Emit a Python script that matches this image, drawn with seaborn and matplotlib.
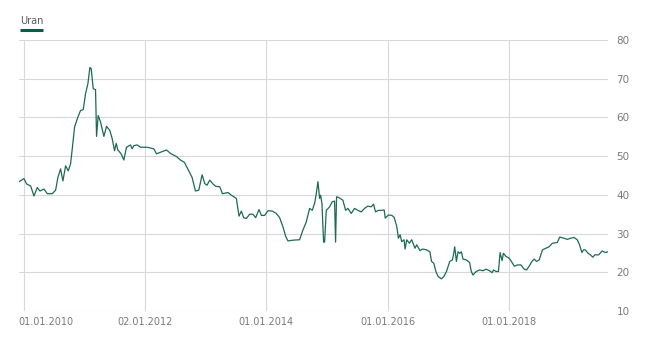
import matplotlib
matplotlib.use("Agg")
import matplotlib.pyplot as plt
from matplotlib.lines import Line2D
from matplotlib.transforms import ScaledTranslation
import seaborn as sns
import pandas as pd

# Time as decimal year, price in USD/lb
years = [
    2009.918, 2010.000, 2010.044, 2010.110, 2010.165, 2010.220, 2010.264, 2010.330, 2010.385, 2010.467,
    2010.522, 2010.560, 2010.604, 2010.643, 2010.687, 2010.731, 2010.769, 2010.797, 2010.835, 2010.890,
    2010.934, 2010.978, 2011.016, 2011.055, 2011.088, 2011.110, 2011.143, 2011.181, 2011.198, 2011.225,
    2011.264, 2011.319, 2011.363, 2011.418, 2011.456, 2011.495, 2011.522, 2011.549, 2011.604, 2011.648,
    2011.692, 2011.758, 2011.786, 2011.813, 2011.868, 2011.923, 2012.033, 2012.143, 2012.187, 2012.253,
    2012.352, 2012.418, 2012.516, 2012.582, 2012.648, 2012.720, 2012.775, 2012.830, 2012.885, 2012.940,
    2012.984, 2013.022, 2013.066, 2013.121, 2013.165, 2013.231, 2013.275, 2013.368, 2013.423, 2013.505,
    2013.549, 2013.588, 2013.626, 2013.670, 2013.725, 2013.780, 2013.824, 2013.879, 2013.918, 2013.973,
    2014.027, 2014.099, 2014.165, 2014.220, 2014.275, 2014.319, 2014.357, 2014.440, 2014.549, 2014.604,
    2014.659, 2014.714, 2014.758, 2014.797, 2014.824, 2014.852, 2014.879, 2014.896, 2014.918, 2014.945,
    2014.962, 2014.989, 2015.044, 2015.088, 2015.126, 2015.143, 2015.159, 2015.209, 2015.264, 2015.308,
    2015.346, 2015.401, 2015.456, 2015.511, 2015.566, 2015.621, 2015.676, 2015.731, 2015.769, 2015.802,
    2015.852, 2015.896, 2015.945, 2015.962, 2016.016, 2016.071, 2016.109, 2016.153, 2016.180, 2016.208,
    2016.235, 2016.273, 2016.290, 2016.317, 2016.361, 2016.399, 2016.426, 2016.454, 2016.481, 2016.536,
    2016.579, 2016.645, 2016.699, 2016.727, 2016.765, 2016.798, 2016.836, 2016.891, 2016.929, 2016.973,
    2017.027, 2017.071, 2017.093, 2017.109, 2017.137, 2017.164, 2017.191, 2017.219, 2017.246, 2017.301,
    2017.355, 2017.383, 2017.410, 2017.464, 2017.519, 2017.574, 2017.628, 2017.683, 2017.727, 2017.749,
    2017.792, 2017.831, 2017.858, 2017.891, 2017.913, 2017.956, 2018.011, 2018.055, 2018.093, 2018.148,
    2018.202, 2018.257, 2018.295, 2018.339, 2018.383, 2018.421, 2018.459, 2018.503, 2018.557, 2018.612,
    2018.667, 2018.721, 2018.803, 2018.842, 2018.913, 2018.967, 2019.022, 2019.077, 2019.131, 2019.169,
    2019.208, 2019.235, 2019.262, 2019.311, 2019.350, 2019.388, 2019.421, 2019.486, 2019.541, 2019.596,
    2019.639,
]
prices = [
    43.4, 44.2, 42.8, 42.3, 39.7, 41.9, 41.0, 41.5, 40.3, 40.3,
    41.2, 44.5, 46.7, 43.6, 47.5, 46.2, 48.0, 51.9, 57.5, 60.1,
    61.8, 62.0, 66.1, 68.7, 72.9, 72.6, 67.4, 67.2, 55.1, 60.5,
    58.8, 55.1, 57.7, 56.6, 54.5, 51.4, 53.3, 51.6, 50.6, 49.0,
    52.3, 52.9, 51.9, 52.7, 52.9, 52.3, 52.3, 51.9, 50.6, 51.0,
    51.6, 50.7, 49.9, 49.0, 48.4, 46.2, 44.5, 41.0, 41.2, 45.2,
    42.9, 42.5, 43.8, 42.8, 42.2, 42.1, 40.3, 40.6, 39.9, 39.1,
    34.5, 35.8, 34.1, 33.9, 35.0, 35.0, 34.1, 36.2, 34.7, 34.7,
    35.9, 35.8, 35.2, 34.1, 31.7, 29.3, 28.1, 28.3, 28.4, 30.9,
    33.0, 36.5, 36.0, 37.8, 40.3, 43.4, 39.1, 39.9, 37.8, 27.8,
    27.8, 36.0, 36.9, 38.2, 38.4, 27.8, 39.5, 39.2, 38.6, 36.0,
    36.5, 35.2, 36.5, 36.0, 35.6, 36.5, 37.1, 36.9, 37.6, 35.6,
    36.0, 36.0, 36.1, 34.0, 34.8, 34.7, 34.2, 31.8, 28.8, 29.7,
    27.9, 28.4, 26.0, 28.4, 27.5, 28.4, 27.3, 26.2, 27.1, 25.6,
    26.0, 25.8, 25.3, 22.8, 22.3, 20.2, 18.9, 18.3, 18.9, 20.2,
    22.8, 23.2, 24.9, 26.6, 22.8, 25.3, 24.9, 25.3, 23.4, 23.2,
    22.5, 20.2, 19.3, 20.2, 20.6, 20.4, 20.8, 20.4, 19.9, 20.6,
    20.2, 20.2, 25.1, 23.0, 24.9, 24.1, 23.6, 22.5, 21.6, 21.9,
    21.9, 20.8, 20.6, 21.6, 22.8, 23.4, 22.8, 23.2, 25.8, 26.2,
    26.6, 27.5, 27.7, 29.1, 28.8, 28.5, 28.8, 29.0, 28.4, 27.1,
    25.1, 25.8, 25.8, 24.9, 24.5, 23.9, 24.5, 24.5, 25.5, 25.1,
    25.3,
]
series_name = "Uran"
x_tick_years = [2010.0, 2012.003, 2014.0, 2016.0, 2018.0]
x_tick_labels = ["01.01.2010", "02.01.2012", "01.01.2014", "01.01.2016", "01.01.2018"]
y_ticks = [10, 20, 30, 40, 50, 60, 70, 80]

df = pd.DataFrame({"year": years, "price": prices})

sns.set_theme(style="white")
plt.rcParams["font.family"] = ["DejaVu Sans"]

line_color = "#1c6b51"
grid_color = "#d8d8d8"
text_color = "#7a7a7a"

fig = plt.figure(figsize=(6.61, 3.43), dpi=100)
ax = fig.add_axes([19 / 661, 1 - 311 / 343, (608 - 19) / 661, (311 - 40) / 343])

sns.lineplot(data=df, x="year", y="price", ax=ax, color=line_color, linewidth=0.9, legend=False)

ax.set_xlim(years[0], years[-1])
ax.set_ylim(10, 80)
ax.set_xlabel("")
ax.set_ylabel("")

ax.yaxis.tick_right()
ax.set_yticks(y_ticks)
ax.set_yticklabels([str(v) for v in y_ticks])
ax.tick_params(axis="y", length=0, pad=6, labelsize=7.5, labelcolor=text_color)

ax.set_xticks(x_tick_years)
ax.set_xticklabels(x_tick_labels)
ax.tick_params(axis="x", length=0, pad=4, labelsize=7, labelcolor=text_color)

ax.grid(True, color=grid_color, linewidth=0.8)
ax.set_axisbelow(True)
for s in ax.spines.values():
    s.set_visible(False)

# first label kept inside the figure
lbls = ax.get_xticklabels()
lbls[0].set_horizontalalignment("left")
lbls[0].set_transform(lbls[0].get_transform() + ScaledTranslation(-0.055, 0, fig.dpi_scale_trans))

# legend
fig.text(20 / 661, 1 - 21 / 343, series_name, fontsize=7, color="#5a5a5a", ha="left", va="center")
fig.add_artist(Line2D([20 / 661, 43 / 661], [1 - 30.3 / 343, 1 - 30.3 / 343],
                      color="#0f5a42", linewidth=2.2, solid_capstyle="butt"))

fig.savefig("out.png", dpi=100)
